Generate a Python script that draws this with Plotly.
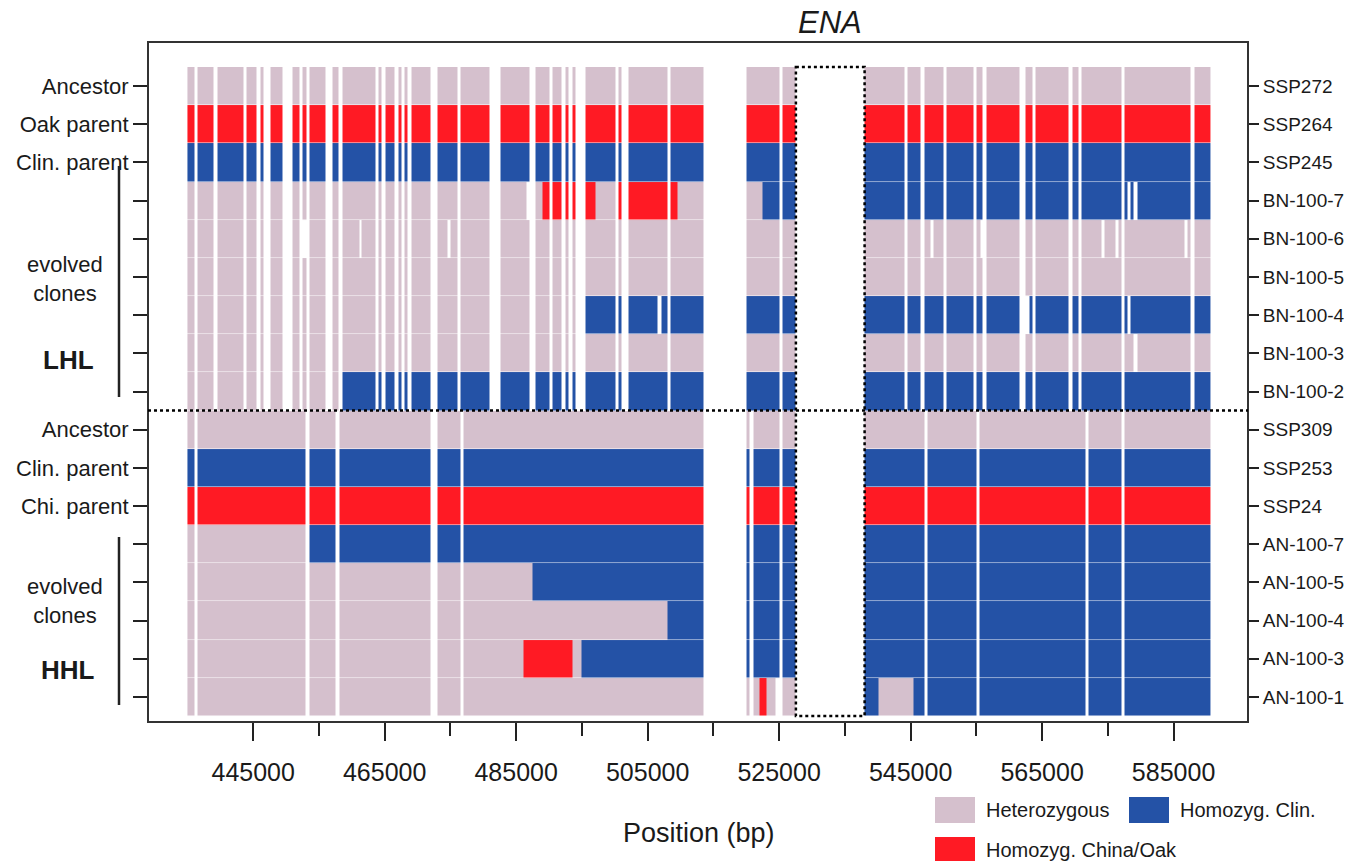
import numpy as np
import plotly.graph_objects as go

# ---------------- data ----------------
row_labels_left = ["Ancestor", "Oak parent", "Clin. parent", "", "", "", "", "", "",
                   "Ancestor", "Clin. parent", "Chi. parent", "", "", "", "", ""]
row_labels_right = ["SSP272", "SSP264", "SSP245", "BN-100-7", "BN-100-6", "BN-100-5",
                    "BN-100-4", "BN-100-3", "BN-100-2",
                    "SSP309", "SSP253", "SSP24", "AN-100-7", "AN-100-5", "AN-100-4",
                    "AN-100-3", "AN-100-1"]
row_panel = ["LHL"] * 9 + ["HHL"] * 8

# genotyped stretches (bp) for each panel
lhl_blocks = [(435000, 436000), (436500, 439000), (439550, 443550), (444000, 445550),
              (446050, 446550), (447550, 449500), (451000, 452000), (452550, 453050),
              (453550, 455950), (457050, 458000), (458550, 463550), (464050, 464500),
              (465050, 466500), (467050, 467550), (468050, 468500), (469050, 472000),
              (473000, 476000), (476550, 481000), (482550, 487000), (488000, 490000),
              (490550, 491950), (492500, 493000), (493500, 494000), (495500, 500050),
              (500500, 501000), (502050, 508000), (508500, 513450), (520050, 525050),
              (525550, 527550), (538000, 544000), (544500, 546550), (547050, 550000),
              (550500, 554550), (554950, 555950), (556550, 561550), (562500, 563500),
              (564050, 569050), (569550, 570550), (571050, 577050), (577550, 587600),
              (588100, 590550)]
hhl_blocks = [(435000, 436000), (436500, 453000), (453550, 457450), (458050, 472000),
              (473000, 476450), (476950, 513450), (520050, 520450), (521050, 525050),
              (525550, 527550), (538000, 547050), (547550, 554950), (555450, 571550),
              (572050, 577050), (577550, 590550)]

# genotype per row: (position from which it applies, genotype)
row_genotypes = [
    [(0, "het")],
    [(0, "oak")],
    [(0, "clin")],
    [(0, "het"), (489000, "oak"), (497000, "het"), (500300, "oak"), (509500, "het"), (522500, "clin")],
    [(0, "het")],
    [(0, "het")],
    [(0, "het"), (495000, "clin")],
    [(0, "het")],
    [(0, "het"), (458300, "clin")],
    [(0, "het")],
    [(0, "clin")],
    [(0, "oak")],
    [(0, "het"), (453300, "clin")],
    [(0, "het"), (487500, "clin")],
    [(0, "het"), (508000, "clin")],
    [(0, "het"), (486050, "oak"), (493500, "het"), (495000, "clin")],
    [(0, "het"), (522000, "oak"), (523000, "het"), (538000, "clin"), (540050, "het"), (545500, "clin")],
]
# missing calls per row (bp)
row_missing = [
    [], [], [],
    [(486500, 487000), (577950, 578500), (578950, 579500)],
    [(452550, 453050), (461100, 461450), (474500, 474950), (548050, 548450),
     (555550, 555950), (574050, 574550), (576100, 576600), (586600, 587100)],
    [],
    [(506550, 507050), (562500, 563000), (577950, 578500)],
    [(578950, 579500)],
    [], [], [], [], [], [], [], [],
    [(524500, 525050)],
]
ena_region = (527550, 538000)

x_tick_major = [445000, 465000, 485000, 505000, 525000, 545000, 565000, 585000]
x_tick_minor = [455000, 475000, 495000, 515000, 535000, 555000, 575000]

genotype_names = ["Heterozygous", "Homozyg. Clin.", "Homozyg. China/Oak"]

# ---------------- style ----------------
C_HET = "#D5C0CD"
C_CLIN = "#2452A6"
C_OAK = "#FF1A24"
codes = {"het": 0, "clin": 1, "oak": 2}
FONT = "Liberation Sans, Arial, sans-serif"
TXT = "#1a1a1a"

W, H = 1370, 861
ML, MR, MT, MB = 148, 122, 42, 139
PW, PH = W - ML - MR, H - MT - MB


def px_x(p):
    return (p - ML) / PW


def px_y(p):
    return (H - MB - p) / PH


# ---------------- build matrix ----------------
edge_set = set()
for b in lhl_blocks + hhl_blocks:
    edge_set.update(b)
for r in range(len(row_labels_right)):
    for pos, _ in row_genotypes[r]:
        if pos > 0:
            edge_set.add(pos)
    for a, b in row_missing[r]:
        edge_set.update((a, b))
edges = np.array(sorted(edge_set), dtype=float)
mids = (edges[:-1] + edges[1:]) / 2
nrow = len(row_labels_right)
z = np.full((nrow, len(mids)), np.nan)
for r in range(nrow):
    blocks = lhl_blocks if row_panel[r] == "LHL" else hhl_blocks
    for j, m in enumerate(mids):
        if not any(a <= m < b for a, b in blocks):
            continue
        if any(a <= m < b for a, b in row_missing[r]):
            continue
        g = None
        for pos, gt in row_genotypes[r]:
            if m >= pos:
                g = gt
        z[r, j] = codes[g]

fig = go.Figure()
fig.add_trace(go.Heatmap(
    x=edges, y=list(range(nrow)), z=z, zmin=0, zmax=2,
    colorscale=[[0, C_HET], [1 / 3, C_HET], [1 / 3, C_CLIN], [2 / 3, C_CLIN], [2 / 3, C_OAK], [1, C_OAK]],
    showscale=False, hoverinfo="skip", xgap=0, ygap=0.5,
))
fig.add_trace(go.Scatter(x=[edges[0]], y=[0], yaxis="y2", mode="markers",
                         marker=dict(opacity=0), showlegend=False, hoverinfo="skip"))

yr = [nrow - 1 + 0.657, -1.155]
fig.update_layout(
    width=W, height=H,
    margin=dict(l=ML, r=MR, t=MT, b=MB, pad=0),
    paper_bgcolor="white", plot_bgcolor="white",
    showlegend=False,
    font=dict(family=FONT, color=TXT),
    xaxis=dict(range=[429000, 596320], showgrid=False, zeroline=False, showline=False,
               tickmode="array", tickvals=x_tick_major, ticktext=[str(v) for v in x_tick_major],
               ticks="outside", ticklen=18, tickwidth=2, tickcolor="#222",
               tickfont=dict(size=25, family=FONT, color=TXT), ticklabelstandoff=10,
               minor=dict(tickmode="array", tickvals=x_tick_minor, ticks="outside",
                          ticklen=13, tickwidth=2, tickcolor="#222", showgrid=False)),
    yaxis=dict(range=yr, showgrid=False, zeroline=False, showline=False,
               tickmode="array", tickvals=list(range(nrow)), ticktext=row_labels_left,
               ticks="outside", ticklen=14, tickwidth=2, tickcolor="#222",
               tickfont=dict(size=22, family=FONT, color=TXT)),
    yaxis2=dict(range=yr, overlaying="y", side="right", showgrid=False, zeroline=False,
                showline=False, tickmode="array", tickvals=list(range(nrow)),
                ticktext=row_labels_right, ticks="outside", ticklen=10, tickwidth=2,
                tickcolor="#222", tickfont=dict(size=19, family=FONT, color=TXT)),
)

shapes = []
# frame
shapes.append(dict(type="rect", xref="paper", yref="paper", x0=0, x1=1, y0=0, y1=1,
                   line=dict(color="#333", width=2), layer="above"))
# panel separator
shapes.append(dict(type="line", xref="paper", yref="y", x0=0, x1=1, y0=8.5, y1=8.5,
                   line=dict(color="black", width=2.5, dash="dot"), layer="above"))
# ENA box
shapes.append(dict(type="rect", xref="x", yref="y", x0=ena_region[0], x1=ena_region[1],
                   y0=-0.5, y1=nrow - 0.5, line=dict(color="black", width=2.5, dash="dot"),
                   layer="above"))
# clone brackets
for y0, y1 in [(166, 397), (537, 705)]:
    shapes.append(dict(type="line", xref="paper", yref="paper", x0=px_x(119), x1=px_x(119),
                       y0=px_y(y0), y1=px_y(y1), line=dict(color="#222", width=2.5)))
# legend swatches
leg_colors = [C_HET, C_CLIN, C_OAK]
leg_pos = [(935, 797), (1129, 797), (935, 837)]
for col, (lx, ly) in zip(leg_colors, leg_pos):
    shapes.append(dict(type="rect", xref="paper", yref="paper", x0=px_x(lx), x1=px_x(lx + 40),
                       y0=px_y(ly), y1=px_y(ly + 26), fillcolor=col, line=dict(width=0)))
fig.update_layout(shapes=shapes)

ann = []
for name, (lx, ly) in zip(genotype_names, leg_pos):
    ann.append(dict(xref="paper", yref="paper", x=px_x(lx + 49), y=px_y(ly + 13), text=name,
                    showarrow=False, xanchor="left", yanchor="middle",
                    font=dict(size=20, family=FONT, color=TXT)))
for txt, yc in [("evolved<br>clones", 279), ("evolved<br>clones", 601)]:
    ann.append(dict(xref="paper", yref="paper", x=px_x(65), y=px_y(yc), text=txt,
                    showarrow=False, xanchor="center", yanchor="middle",
                    font=dict(size=22, family=FONT, color=TXT)))
for txt, yc in [("<b>LHL</b>", 360), ("<b>HHL</b>", 670)]:
    ann.append(dict(xref="paper", yref="paper", x=px_x(68), y=px_y(yc), text=txt,
                    showarrow=False, xanchor="center", yanchor="middle",
                    font=dict(size=26, family=FONT, color=TXT)))
ann.append(dict(xref="x", yref="paper", x=(ena_region[0] + ena_region[1]) / 2, y=px_y(22),
                text="<i>ENA</i>", showarrow=False, xanchor="center", yanchor="middle",
                font=dict(size=31, family=FONT, color=TXT)))
ann.append(dict(xref="paper", yref="paper", x=px_x(699), y=px_y(833), text="Position (bp)",
                showarrow=False, xanchor="center", yanchor="middle",
                font=dict(size=27, family=FONT, color=TXT)))
fig.update_layout(annotations=ann)

fig.write_html("out.html")
